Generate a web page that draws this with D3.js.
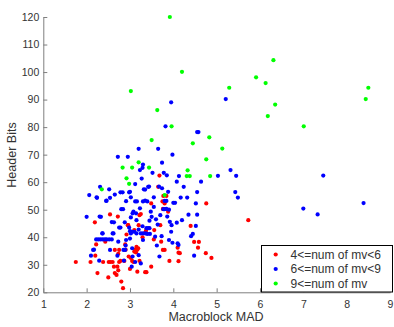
<!DOCTYPE html>
<html>
<head>
<meta charset="utf-8">
<script src="https://cdnjs.cloudflare.com/ajax/libs/d3/7.8.5/d3.min.js"></script>
<style>
body { margin: 0; background: #fff; font-family: Arial, 'Liberation Sans', sans-serif; }
svg { display: block; }
</style>
</head>
<body>
<svg width="394" height="327"></svg>
<script>
// series: [Macroblock MAD, Header Bits]
var mv4to6 = [
  [1.75,31],[2.09,31],[2.19,45.4],[2.22,37.4],[2.25,27],[2.54,48.3],[2.51,31],[2.55,31],[2.43,38.4],[2.38,31],
  [2.5,25.4],[2.65,35.4],[2.63,29.3],[2.71,29.3],[2.65,27],[2.69,26.3],[2.73,34],[2.75,31],[2.8,23.9],[2.84,21.5],
  [2.73,28],[2.9,35.5],[2.97,33],[3.02,32.5],[2.96,44.4],[2.92,41],[3.08,31],[3.12,35.5],[3.15,36.5],[3.17,35.5],
  [3.14,34.5],[3.19,36],[3.1,34.8],[3.25,48.4],[3.2,44.4],[3.29,40],[3.37,42.4],[3.35,41.6],[3.1,42.6],[3.17,27.5],
  [3.35,27.3],[3.38,27.3],[3.49,29.3],[3.49,52.3],[3.55,39.2],[3.68,62.4],[3.65,58.3],[3.7,44.4],[3.72,38.4],[3.76,35.4],
  [3.8,35.4],[3.75,53],[3.8,52.3],[3.88,49.3],[3.91,31.4],[4.12,34.4],[4.15,34.2],[4.12,31.3],[4.1,36.2],[4.4,44.1],
  [4.48,38.3],[4.59,38.3],[4.57,36.2],[4.76,52.3],[5.73,46.2],[4.75,34.2],[4.88,32.5],[3.77,55],[3.84,55],[3.76,50.3],
  [2.72,47.5],[3.22,48],[2.95,44.4],[3.56,42.6],[2.89,37.4],[2.75,35.4],[2.78,31.4],[2.87,31.4],[3.05,31.4],[3.22,31.4],
  [2.6,31],[3.0,28.5],[2.2,33.3]
];
var mv6to9 = [
  [3.95,89],[3.82,80.3],[4.55,78.2],[4.58,78.2],[3.2,72.1],[3.65,72.1],[2.72,69.2],[2.95,69.2],[3.98,70],[3.74,67.1],
  [3.3,66.4],[3.29,65.2],[5.21,90.2],[5.32,64.4],[5.03,62.3],[5.45,62.3],[7.46,62.4],[4.64,60.2],[4.55,56.4],[5.43,56.4],
  [5.49,54.4],[4.52,52.3],[8.39,52.4],[7.0,50.4],[4.55,48.2],[7.33,48.3],[4.52,44.1],[4.45,41.2],[4.41,40.4],[4.48,33.3],
  [2.0,47.4],[2.06,55.3],[2.1,33.3],[2.15,35.4],[2.22,39.2],[2.27,39.2],[2.32,39.2],[2.37,39.2],[2.42,39.2],[2.46,39.2],
  [2.52,39.2],[2.58,39.2],[2.31,58.3],[2.23,54.5],[2.33,47.4],[2.37,41.4],[2.29,31.5],[2.46,53.3],[2.52,57.4],[2.54,54.3],
  [2.54,35.4],[2.62,41.4],[2.63,45.4],[2.65,55.5],[2.71,33.3],[2.73,38.4],[2.75,43.5],[2.78,43.5],[2.78,56.3],[2.8,50.2],
  [2.84,50.2],[2.85,35.4],[2.89,35.4],[2.86,31.5],[2.88,45.4],[2.91,39],[2.91,53.1],[3.0,56.5],[3.02,54.5],[3.02,47.2],
  [3.05,42],[3.1,42],[3.15,41.4],[3.04,29.3],[3.06,33],[3.08,49.3],[3.12,59.3],[3.12,53],[3.16,53],[3.15,46.2],
  [3.23,64.4],[3.27,61.3],[3.3,53],[3.35,53.3],[3.4,53],[3.23,50.5],[3.29,44],[3.32,57.4],[3.38,43.3],[3.42,43.3],
  [3.45,43.3],[3.4,41.2],[3.46,41.2],[3.42,58.3],[3.48,49.3],[3.5,47.4],[3.52,63.4],[3.55,54.5],[3.58,40.2],[3.77,50.2],
  [3.8,50.2],[3.78,63.4],[3.73,40.4],[3.85,62.5],[3.88,56.5],[3.9,50],[3.92,45.6],[3.96,44.4],[4.0,52.5],[4.04,52.5],
  [3.98,38],[4.1,37.8],[4.13,62.2],[4.12,37.2],[4.08,45.3],[4.17,54.4],[4.32,54.4],[4.2,46.2],[4.24,58.3],[4.35,48.2],
  [4.08,60.2],[2.24,54.3],[2.45,53.2],[2.98,56.3],[2.83,56.3],[3.44,58.4],[3.67,58.4],[3.74,57.8],[3.35,57.3],[3.8,53.2],
  [3.84,53.2],[3.84,50.3],[2.3,47.5],[2.58,45.5],[3.06,48.7],[3.14,48.7],[2.98,43.5],[3.0,42.2],[3.2,42.8],[3.25,41.4],
  [2.36,41.4],[2.6,41.4],[3.02,41.4],[3.3,41.4],[3.36,41.4],[2.17,35.5],[2.9,37],[3.0,39.5],[3.05,36],[3.12,31],
  [3.2,33.5],[3.25,30.5],[3.3,39],[3.45,46],[3.55,51],[3.6,46.5],[3.7,48],[3.64,44.6],[3.86,47.5],[3.62,37],
  [3.68,33],[3.95,42],[3.9,39]
];
var mv9up = [
  [3.92,120],[4.2,100.1],[3.02,93.1],[3.63,86.2],[3.96,80.3],[3.5,75.3],[4.45,74.1],[3.2,67.2],[2.83,65.3],[3.05,65.3],
  [3.44,65.3],[4.33,64.3],[4.31,62.2],[4.38,62.2],[2.35,57.4],[2.92,61.4],[2.98,59.4],[3.8,55.3],[6.31,104.3],[5.91,98.1],
  [6.13,96],[5.29,94.3],[8.5,94.3],[8.44,90.2],[6.35,88.2],[6.18,84],[7.01,80.3],[4.83,76.3],[5.13,72.2],[4.76,68.3],
  [4.85,62.2]
];
var xTicks = [1,2,3,4,5,6,7,8,9];
var yTicks = [20,30,40,50,60,70,80,90,100,110,120];
var legendLabels = ["4<=num of mv<6", "6<=num of mv<9", "9<=num of mv"];
var colors = ["#ff0000", "#0000ff", "#00ff00"];

var svg = d3.select("svg");
var x = d3.scaleLinear().domain([1, 9]).range([43.3, 390]);
var y = d3.scaleLinear().domain([20, 120]).range([292.3, 17]);

// axes, matlab style with inward ticks
var xAxis = svg.append("g").attr("transform", "translate(0,292.3)")
  .call(d3.axisBottom(x).tickValues(xTicks).tickSizeInner(-4).tickSizeOuter(0).tickPadding(8));
var yAxis = svg.append("g").attr("transform", "translate(43.3,0)")
  .call(d3.axisLeft(y).tickValues(yTicks).tickSizeInner(-4).tickSizeOuter(0).tickPadding(4));
[xAxis, yAxis].forEach(function(a) {
  a.select(".domain").attr("stroke", "#7f7f7f");
  a.selectAll(".tick line").attr("stroke", "#7f7f7f");
  a.selectAll(".tick text").attr("fill", "#333").style("font-size", "10.5px")
    .style("font-family", "Arial, 'Liberation Sans', sans-serif");
});

svg.append("text").attr("x", 216).attr("y", 321).attr("text-anchor", "middle")
  .attr("fill", "#333").style("font-size", "12.5px").text("Macroblock MAD");
svg.append("text").attr("transform", "translate(16,155) rotate(-90)").attr("text-anchor", "middle")
  .attr("fill", "#333").style("font-size", "12.5px").text("Header Bits");

[mv4to6, mv6to9, mv9up].forEach(function(series, i) {
  svg.append("g").selectAll("circle").data(series).enter().append("circle")
    .attr("cx", function(d) { return x(d[0]); })
    .attr("cy", function(d) { return y(d[1]); })
    .attr("r", 2.1)
    .attr("fill", colors[i]);
});

// legend
var lg = svg.append("g");
lg.append("rect").attr("x", 261.5).attr("y", 245.5).attr("width", 131).attr("height", 46.5)
  .attr("fill", "#fff").attr("stroke", "#000").attr("stroke-width", 1);
legendLabels.forEach(function(t, i) {
  var yy = 254.5 + i * 14.5;
  lg.append("circle").attr("cx", 275.7).attr("cy", yy).attr("r", 2.1).attr("fill", colors[i]);
  lg.append("text").attr("x", 290.5).attr("y", yy + 4.3).attr("fill", "#333")
    .style("font-size", "12px").text(t);
});
</script>
</body>
</html>
